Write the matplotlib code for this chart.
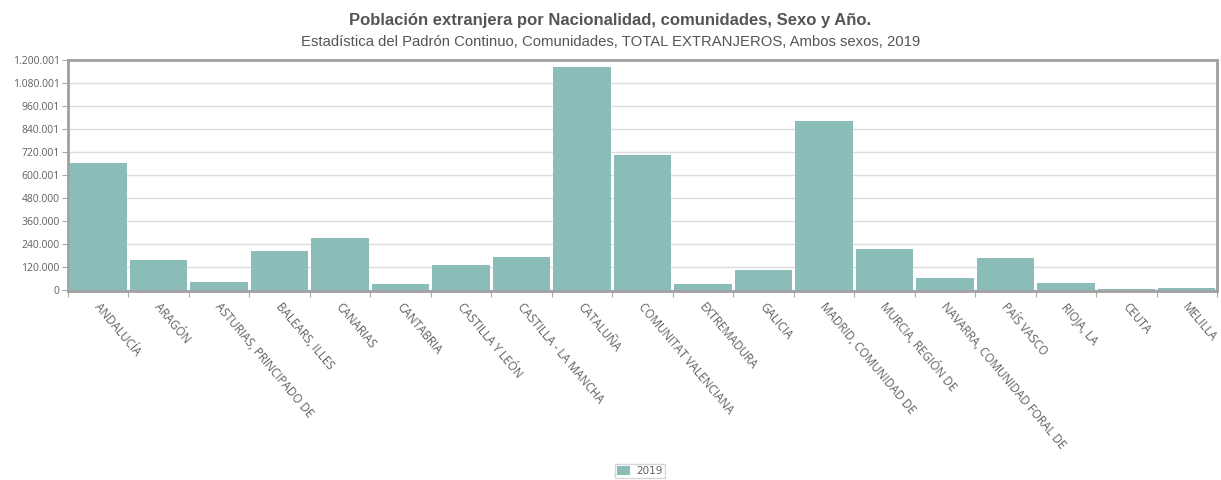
import numpy as np
import matplotlib.pyplot as plt

# Datos: población extranjera por comunidad, 2019
comunidades = [
    "ANDALUCÍA", "ARAGÓN", "ASTURIAS, PRINCIPADO DE", "BALEARS, ILLES",
    "CANARIAS", "CANTABRIA", "CASTILLA Y LEÓN", "CASTILLA - LA MANCHA",
    "CATALUÑA", "COMUNITAT VALENCIANA", "EXTREMADURA", "GALICIA",
    "MADRID, COMUNIDAD DE", "MURCIA, REGIÓN DE", "NAVARRA, COMUNIDAD FORAL DE",
    "PAÍS VASCO", "RIOJA, LA", "CEUTA", "MELILLA",
]
valores_2019 = [
    661000, 156000, 43000, 206000, 274000, 33000, 130000, 172000,
    1164000, 706000, 32000, 104000, 882000, 216000, 64000, 165000,
    38000, 5600, 13000,
]
y_max = 1200001
y_etiquetas = ["0", "120.000", "240.000", "360.000", "480.000", "600.001",
               "720.001", "840.001", "960.001", "1.080.001", "1.200.001"]

color_barra = "#8abdb8"
gris_texto = "#606060"

fig = plt.figure(figsize=(12.21, 4.8), dpi=100)
ax = fig.add_axes([68 / 1221, 1 - 291 / 480, (1217 - 68) / 1221, (291 - 60) / 480])

x = np.arange(len(comunidades))
ax.bar(x, valores_2019, width=0.95, color=color_barra, linewidth=0,
       label="2019", zorder=3)

ax.set_xlim(-0.5, len(comunidades) - 0.5)
ax.set_ylim(-5000, y_max)
ax.set_yticks(np.linspace(0, y_max, len(y_etiquetas)))
ax.set_yticklabels(y_etiquetas, fontsize=7.5, color=gris_texto, family="Open Sans")
ax.yaxis.grid(True, color="#dddddd", linewidth=1, zorder=0)
ax.tick_params(axis="y", length=4, color="#aaaaaa", pad=2)

# ticks del eje x en los límites de categoría
ax.set_xticks(np.arange(len(comunidades) + 1) - 0.5)
ax.set_xticklabels([])
ax.tick_params(axis="x", length=4, color="#aaaaaa")
for xi, nombre in zip(x, comunidades):
    ax.text(xi - 0.03, -0.058, nombre, transform=ax.get_xaxis_transform(),
            rotation=-50, rotation_mode="anchor", ha="left", va="center",
            fontsize=8.4, color=gris_texto, family="Open Sans")

for lado in ["top", "left", "bottom", "right"]:
    ax.spines[lado].set_color("#a0a0a0")
    ax.spines[lado].set_linewidth(2)
    ax.spines[lado].set_zorder(5)

fig.text(0.5, 1 - 21 / 480, "Población extranjera por Nacionalidad, comunidades, Sexo y Año.",
         ha="center", va="center", fontsize=12, fontweight="bold", color="#555555",
         family="Liberation Sans")
fig.text(0.5, 1 - 42 / 480,
         "Estadística del Padrón Continuo, Comunidades, TOTAL EXTRANJEROS, Ambos sexos, 2019",
         ha="center", va="center", fontsize=10.7, color="#555555", family="Liberation Sans")

fig.legend(loc="center", bbox_to_anchor=(640 / 1221, 1 - 471 / 480), fontsize=7.5,
           frameon=True, edgecolor="#cccccc", fancybox=False, handlelength=1.2,
           handleheight=0.9, borderpad=0.2, handletextpad=0.6, labelcolor=gris_texto)

fig.savefig("out.png", dpi=100)
